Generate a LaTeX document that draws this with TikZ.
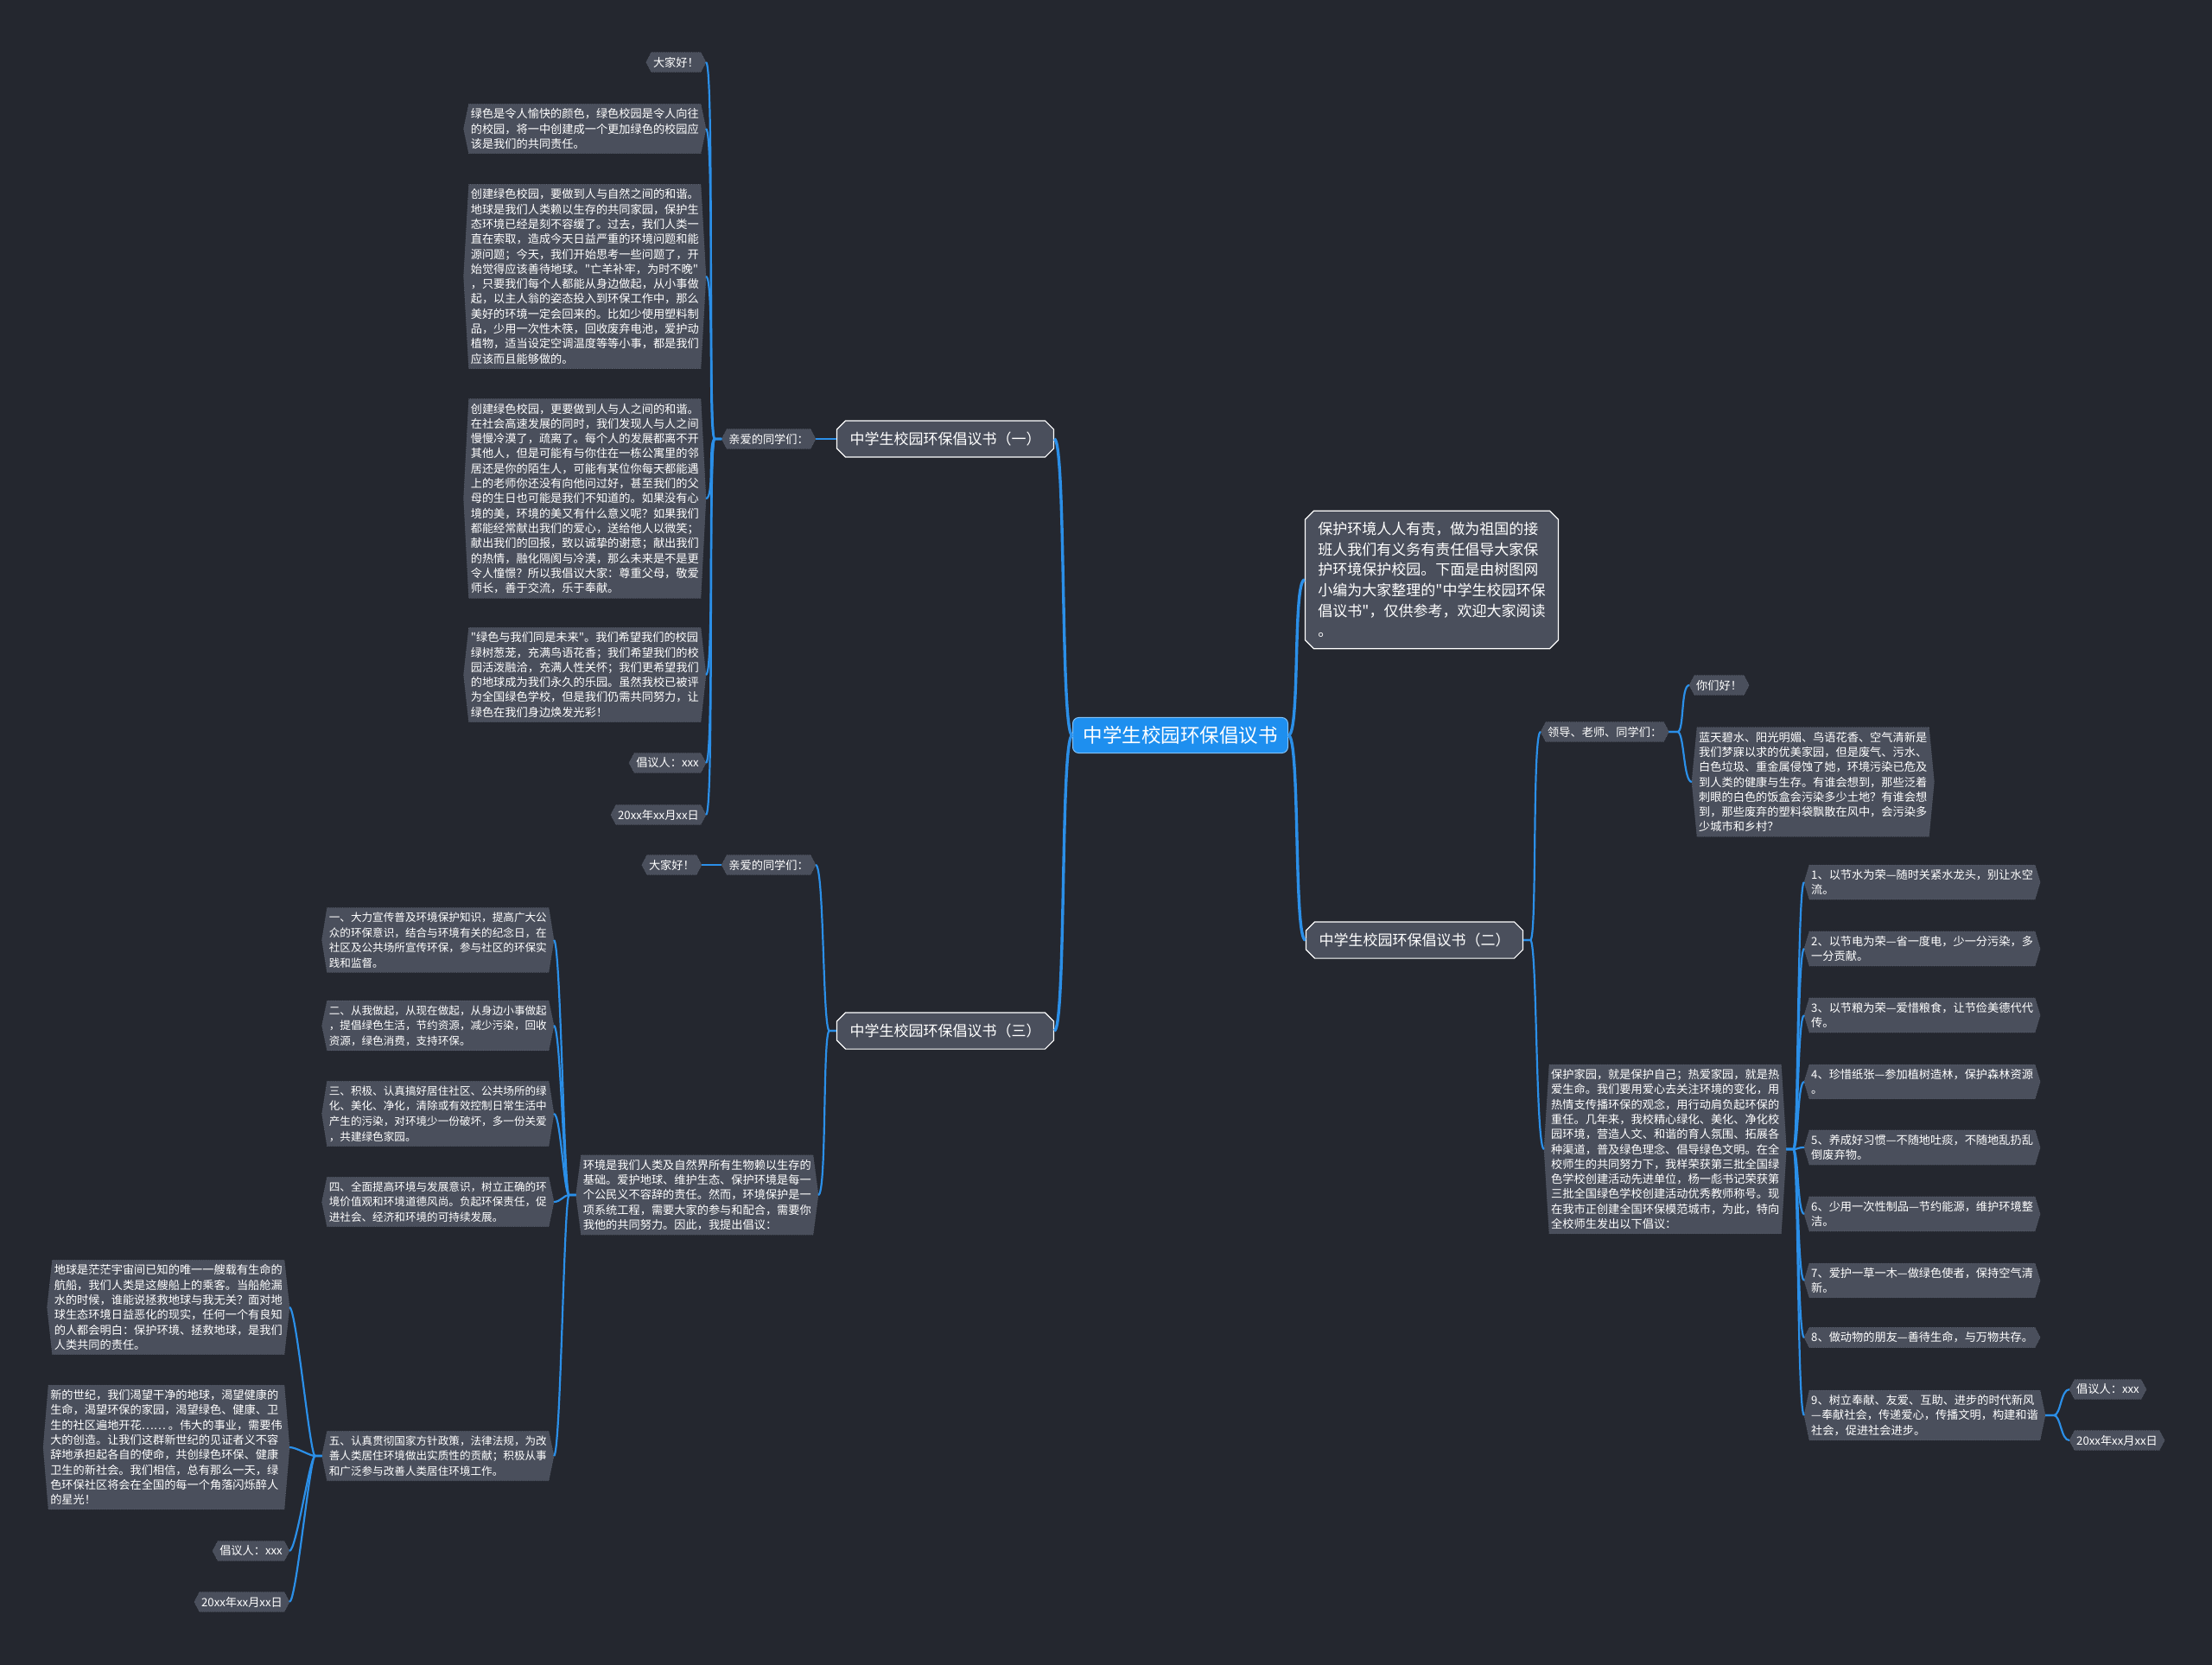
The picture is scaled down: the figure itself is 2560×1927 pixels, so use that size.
\documentclass[tikz,border=0pt]{standalone}
\usepackage{fontspec}
\newfontfamily\cjk{Noto Sans CJK SC}
\usetikzlibrary{shapes.misc,backgrounds}
\definecolor{canvas}{HTML}{24272F}
\definecolor{cardfill}{HTML}{4A4F5C}
\definecolor{cardedge}{HTML}{5E6472}
\definecolor{linkblue}{HTML}{2B8FE8}
\definecolor{rootblue}{HTML}{1E8FEF}
\tikzset{
  card/.style={inner xsep=8pt, inner ysep=5pt, align=left, text=white, font=\cjk\fontsize{13.2}{17.3}\selectfont},
  cardsm/.style={card, font=\cjk\fontsize{12.6}{17.6}\selectfont},
  branch/.style={chamfered rectangle, chamfered rectangle xsep=5pt, chamfered rectangle ysep=5pt, draw=white, line width=1.2pt, fill=cardfill, inner xsep=10pt, inner ysep=8pt, align=left, text=white, font=\cjk\fontsize{17}{23.6}\selectfont},
  root/.style={fill=rootblue, draw=rootblue!55!white, line width=1pt, rounded corners=7pt, inner xsep=12pt, inner ysep=10pt, text=white, font=\cjk\fontsize{22.5}{26}\selectfont},
  link/.style={draw=linkblue, line width=2.2pt},
  trunk/.style={draw=linkblue, line width=3.4pt},
  cardshape/.style={fill=cardfill, draw=cardedge, line width=0.6pt, densely dotted}
}

\begin{document}
\begin{tikzpicture}[x=1pt, y=-1pt]
\begin{scope}[on background layer]
\fill[canvas] (0,0) rectangle (2560,1927);
\end{scope}
\useasboundingbox (0,0) rectangle (2560,1927);

% centre and first level
\node[root] (root) at (1366,851) {中学生校园环保倡议书};
\node[branch] (b1) at (1094,508) {中学生校园环保倡议书（一）};
\node[branch] (b3) at (1094,1193) {中学生校园环保倡议书（三）};
\node[branch] (intro) at (1657,671) {保护环境人人有责，做为祖国的接\\班人我们有义务有责任倡导大家保\\护环境保护校园。下面是由树图网\\小编为大家整理的"中学生校园环保\\倡议书"，仅供参考，欢迎大家阅读\\。};
\node[branch] (b2) at (1637,1088) {中学生校园环保倡议书（二）};

% letter one
\node[card, anchor=east] (dear1) at (944,508) {亲爱的同学们：};
\node[card, anchor=east] (hello1) at (817,72) {大家好！};
\node[card, anchor=east] (p1) at (817,149) {绿色是令人愉快的颜色，绿色校园是令人向往\\的校园，将一中创建成一个更加绿色的校园应\\该是我们的共同责任。};
\node[card, anchor=east] (p2) at (817,320) {创建绿色校园，要做到人与自然之间的和谐。\\地球是我们人类赖以生存的共同家园，保护生\\态环境已经是刻不容缓了。过去，我们人类一\\直在索取，造成今天日益严重的环境问题和能\\源问题；今天，我们开始思考一些问题了，开\\始觉得应该善待地球。"亡羊补牢，为时不晚"\\，只要我们每个人都能从身边做起，从小事做\\起，以主人翁的姿态投入到环保工作中，那么\\美好的环境一定会回来的。比如少使用塑料制\\品，少用一次性木筷，回收废弃电池，爱护动\\植物，适当设定空调温度等等小事，都是我们\\应该而且能够做的。};
\node[card, anchor=east] (p3) at (817,577) {创建绿色校园，更要做到人与人之间的和谐。\\在社会高速发展的同时，我们发现人与人之间\\慢慢冷漠了，疏离了。每个人的发展都离不开\\其他人，但是可能有与你住在一栋公寓里的邻\\居还是你的陌生人，可能有某位你每天都能遇\\上的老师你还没有向他问过好，甚至我们的父\\母的生日也可能是我们不知道的。如果没有心\\境的美，环境的美又有什么意义呢？如果我们\\都能经常献出我们的爱心，送给他人以微笑；\\献出我们的回报，致以诚挚的谢意；献出我们\\的热情，融化隔阂与冷漠，那么未来是不是更\\令人憧憬？所以我倡议大家：尊重父母，敬爱\\师长，善于交流，乐于奉献。};
\node[card, anchor=east] (p4) at (817,781) {"绿色与我们同是未来"。我们希望我们的校园\\绿树葱茏，充满鸟语花香；我们希望我们的校\\园活泼融洽，充满人性关怀；我们更希望我们\\的地球成为我们永久的乐园。虽然我校已被评\\为全国绿色学校，但是我们仍需共同努力，让\\绿色在我们身边焕发光彩！};
\node[card, anchor=east] (sign1) at (817,883) {倡议人：xxx};
\node[card, anchor=east] (date1) at (817,943) {20xx年xx月xx日};

% letter three
\node[card, anchor=east] (dear3) at (944,1001) {亲爱的同学们：};
\node[card, anchor=east] (hello3) at (812,1001) {大家好！};
\node[card, anchor=east] (env) at (947,1383) {环境是我们人类及自然界所有生物赖以生存的\\基础。爱护地球、维护生态、保护环境是每一\\个公民义不容辞的责任。然而，环境保护是一\\项系统工程，需要大家的参与和配合，需要你\\我他的共同努力。因此，我提出倡议：};
\node[cardsm, anchor=east] (s1) at (641,1088) {一、大力宣传普及环境保护知识，提高广大公\\众的环保意识，结合与环境有关的纪念日，在\\社区及公共场所宣传环保，参与社区的环保实\\践和监督。};
\node[cardsm, anchor=east] (s2) at (641,1187) {二、从我做起，从现在做起，从身边小事做起\\，提倡绿色生活，节约资源，减少污染，回收\\资源，绿色消费，支持环保。};
\node[cardsm, anchor=east] (s3) at (641,1289) {三、积极、认真搞好居住社区、公共场所的绿\\化、美化、净化，清除或有效控制日常生活中\\产生的污染，对环境少一份破坏，多一份关爱\\，共建绿色家园。};
\node[cardsm, anchor=east] (s4) at (641,1391) {四、全面提高环境与发展意识，树立正确的环\\境价值观和环境道德风尚。负起环保责任，促\\进社会、经济和环境的可持续发展。};
\node[cardsm, anchor=east] (s5) at (641,1685) {五、认真贯彻国家方针政策，法律法规，为改\\善人类居住环境做出实质性的贡献；积极从事\\和广泛参与改善人类居住环境工作。};
\node[card, anchor=east] (earth) at (335,1513) {地球是茫茫宇宙间已知的唯一一艘载有生命的\\航船，我们人类是这艘船上的乘客。当船舱漏\\水的时候，谁能说拯救地球与我无关？面对地\\球生态环境日益恶化的现实，任何一个有良知\\的人都会明白：保护环境、拯救地球，是我们\\人类共同的责任。};
\node[card, anchor=east] (century) at (335,1675) {新的世纪，我们渴望干净的地球，渴望健康的\\生命，渴望环保的家园，渴望绿色、健康、卫\\生的社区遍地开花…… 。伟大的事业，需要伟\\大的创造。让我们这群新世纪的见证者义不容\\辞地承担起各自的使命，共创绿色环保、健康\\卫生的新社会。我们相信，总有那么一天，绿\\色环保社区将会在全国的每一个角落闪烁醉人\\的星光！};
\node[card, anchor=east] (sign3) at (335,1795) {倡议人：xxx};
\node[card, anchor=east] (date3) at (335,1854) {20xx年xx月xx日};

% letter two
\node[card, anchor=west] (lead) at (1783,847) {领导、老师、同学们：};
\node[card, anchor=west] (hi) at (1955,793) {你们好！};
\node[card, anchor=west] (sky) at (1958,905) {蓝天碧水、阳光明媚、鸟语花香、空气清新是\\我们梦寐以求的优美家园，但是废气、污水、\\白色垃圾、重金属侵蚀了她，环境污染已危及\\到人类的健康与生存。有谁会想到，那些泛着\\刺眼的白色的饭盒会污染多少土地？有谁会想\\到，那些废弃的塑料袋飘散在风中，会污染多\\少城市和乡村？};
\node[card, anchor=west] (homep) at (1787,1330) {保护家园，就是保护自己；热爱家园，就是热\\爱生命。我们要用爱心去关注环境的变化，用\\热情支传播环保的观念，用行动肩负起环保的\\重任。几年来，我校精心绿化、美化、净化校\\园环境，营造人文、和谐的育人氛围、拓展各\\种渠道，普及绿色理念、倡导绿色文明。在全\\校师生的共同努力下，我样荣获第三批全国绿\\色学校创建活动先进单位，杨一彪书记荣获第\\三批全国绿色学校创建活动优秀教师称号。现\\在我市正创建全国环保模范城市，为此，特向\\全校师生发出以下倡议：};
\node[card, anchor=west] (n1) at (2088,1021) {1、以节水为荣—随时关紧水龙头，别让水空\\流。};
\node[card, anchor=west] (n2) at (2088,1098) {2、以节电为荣—省一度电，少一分污染，多\\一分贡献。};
\node[card, anchor=west] (n3) at (2088,1175) {3、以节粮为荣—爱惜粮食，让节俭美德代代\\传。};
\node[card, anchor=west] (n4) at (2088,1252) {4、珍惜纸张—参加植树造林，保护森林资源\\。};
\node[card, anchor=west] (n5) at (2088,1328) {5、养成好习惯—不随地吐痰，不随地乱扔乱\\倒废弃物。};
\node[card, anchor=west] (n6) at (2088,1405) {6、少用一次性制品—节约能源，维护环境整\\洁。};
\node[card, anchor=west] (n7) at (2088,1482) {7、爱护一草一木—做绿色使者，保持空气清\\新。};
\node[card, anchor=west] (n8) at (2088,1548) {8、做动物的朋友—善待生命，与万物共存。};
\node[card, anchor=west] (n9) at (2088,1638) {9、树立奉献、友爱、互助、进步的时代新风\\—奉献社会，传递爱心，传播文明，构建和谐\\社会，促进社会进步。};
\node[card, anchor=west] (sign2) at (2395,1608) {倡议人：xxx};
\node[card, anchor=west] (date2) at (2395,1667) {20xx年xx月xx日};

% card outlines behind the text
\begin{scope}[on background layer]
\foreach \n in {dear1,hello1,p1,p2,p3,p4,sign1,date1,dear3,hello3,env,s1,s2,s3,s4,s5,earth,century,sign3,date3,lead,hi,sky,homep,n1,n2,n3,n4,n5,n6,n7,n8,n9,sign2,date2}
  \draw[cardshape] ([xshift=6pt]\n.north west) -- ([xshift=-6pt]\n.north east) -- (\n.east) -- ([xshift=-6pt]\n.south east) -- ([xshift=6pt]\n.south west) -- (\n.west) -- cycle;
\end{scope}

% connectors
\foreach \t in {b1,b3} \draw[trunk] (root.west) .. controls +(-14,0) and +(14,0) .. (\t.east);
\foreach \t in {intro,b2} \draw[trunk] (root.east) .. controls +(14,0) and +(-14,0) .. (\t.west);
\draw[link] (b1.west) -- (dear1.east);
\foreach \c in {hello1,p1,p2,p3,p4,sign1,date1} \draw[link] (dear1.west) -- ++(-8,0) .. controls +(-8,0) and +(10,0) .. (\c.east);
\foreach \c in {dear3,env} \draw[link] (b3.west) -- ++(-8,0) .. controls +(-8,0) and +(10,0) .. (\c.east);
\draw[link] (dear3.west) -- (hello3.east);
\foreach \c in {s1,s2,s3,s4,s5} \draw[link] (env.west) -- ++(-8,0) .. controls +(-6,0) and +(8,0) .. (\c.east);
\foreach \c in {earth,century,sign3,date3} \draw[link] (s5.west) -- ++(-8,0) .. controls +(-6,0) and +(8,0) .. (\c.east);
\foreach \c in {lead,homep} \draw[link] (b2.east) -- ++(8,0) .. controls +(8,0) and +(-10,0) .. (\c.west);
\foreach \c in {hi,sky} \draw[link] (lead.east) -- ++(10,0) .. controls +(8,0) and +(-10,0) .. (\c.west);
\foreach \c in {n1,n2,n3,n4,n5,n6,n7,n8,n9} \draw[link] (homep.east) -- ++(8,0) .. controls +(6,0) and +(-8,0) .. (\c.west);
\foreach \c in {sign2,date2} \draw[link] (n9.east) -- ++(10,0) .. controls +(8,0) and +(-10,0) .. (\c.west);
\end{tikzpicture}
\end{document}
